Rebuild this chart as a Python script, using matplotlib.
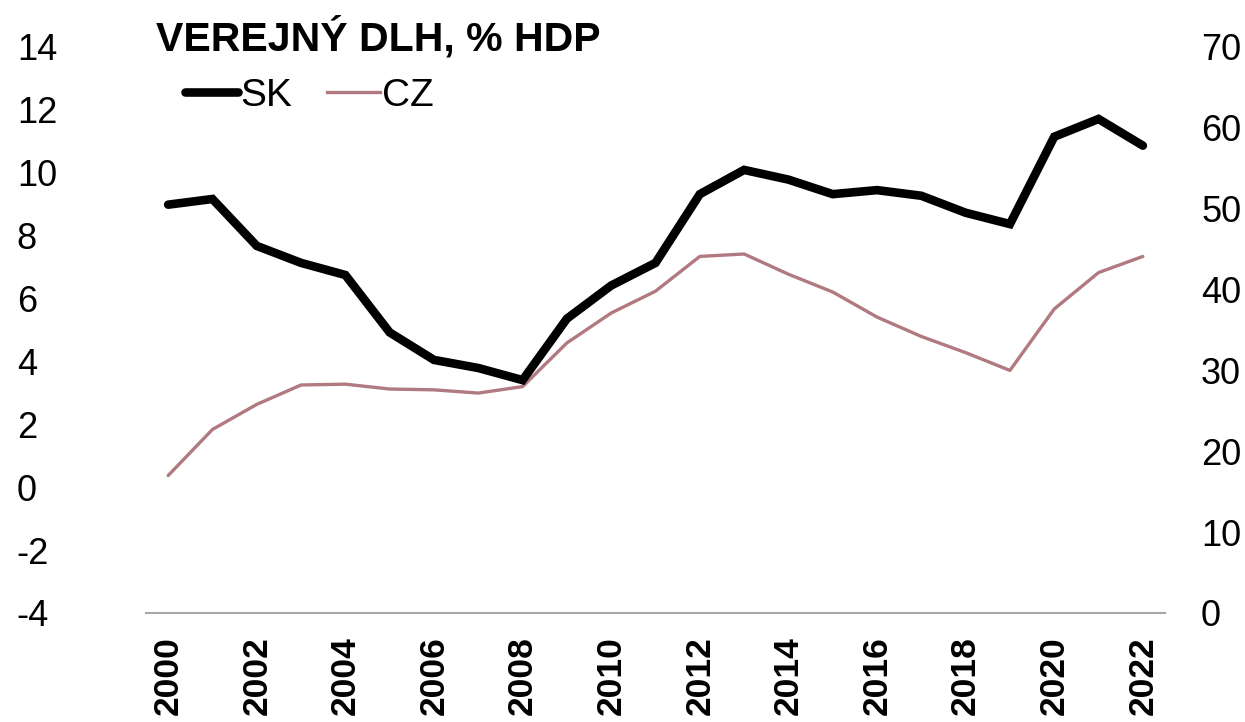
import matplotlib
matplotlib.use("Agg")
import matplotlib.pyplot as plt
from matplotlib.lines import Line2D

plt.rcParams['font.family'] = ['Liberation Sans', 'DejaVu Sans']

years = list(range(2000, 2023))
sk = [50.5, 51.2, 45.4, 43.3, 41.8, 34.7, 31.3, 30.3, 28.8, 36.4, 40.5, 43.3,
      51.8, 54.8, 53.6, 51.8, 52.3, 51.6, 49.5, 48.1, 58.9, 61.1, 57.8]
cz = [17.0, 22.7, 25.8, 28.2, 28.3, 27.7, 27.6, 27.2, 28.0, 33.4, 37.1, 39.8,
      44.1, 44.4, 41.9, 39.7, 36.6, 34.2, 32.2, 30.0, 37.6, 42.1, 44.1]
left_ticks = [-4, -2, 0, 2, 4, 6, 8, 10, 12, 14]
right_ticks = [0, 10, 20, 30, 40, 50, 60, 70]
xtick_years = list(range(2000, 2023, 2))
title = "VEREJNÝ DLH, % HDP"

fig = plt.figure(figsize=(12.45, 7.22), dpi=100)
ax = fig.add_axes([146/1245, 1-613/722, (1165-146)/1245, (613-47)/722])
ax2 = ax.twinx()

sk_color = '#000000'
cz_color = '#b07a80'
ax2.plot(years, sk, color=sk_color, lw=6.2, solid_capstyle='round', solid_joinstyle='miter', zorder=3)
ax2.plot(years, cz, color=cz_color, lw=2.4, solid_capstyle='round', zorder=2)

ax.set_xlim(1999.5, 2022.5)
ax.set_ylim(-4, 14)
ax2.set_ylim(0, 70)
ax.set_yticks(left_ticks)
ax.set_yticklabels([str(t) for t in left_ticks])
ax2.set_yticks(right_ticks)
ax2.set_yticklabels([str(t) for t in right_ticks])
ax.set_xticks(xtick_years)
ax.set_xticklabels([str(y) for y in xtick_years], rotation=90, fontweight='bold', fontsize=25.5)

for a in (ax, ax2):
    for s in ('top', 'left', 'right', 'bottom'):
        a.spines[s].set_visible(False)
ax.spines['bottom'].set_visible(True)
ax.spines['bottom'].set_color('#a6a6a6')
ax.spines['bottom'].set_linewidth(1.5)

ax.tick_params(axis='y', length=0, labelsize=26, pad=93)
for lab in ax.get_yticklabels():
    lab.set_horizontalalignment('left')
ax2.tick_params(axis='y', length=0, labelsize=26, pad=26)
ax.tick_params(axis='x', length=0, pad=17)

fig.text(156/1245, 1-37/722, title, fontsize=29.5, fontweight='bold', ha='left', va='center')

handles = [Line2D([], [], color=sk_color, lw=6.2, solid_capstyle='round'),
           Line2D([], [], color=cz_color, lw=2.4)]
fig.legend(handles, ['SK', 'CZ'], loc='center left', bbox_to_anchor=(185/1245, 1-96/722),
           ncol=2, frameon=False, fontsize=28, handlelength=1.37, handletextpad=0.04,
           columnspacing=0.9, borderpad=0, borderaxespad=0)

fig.savefig('out.png', dpi=100)
